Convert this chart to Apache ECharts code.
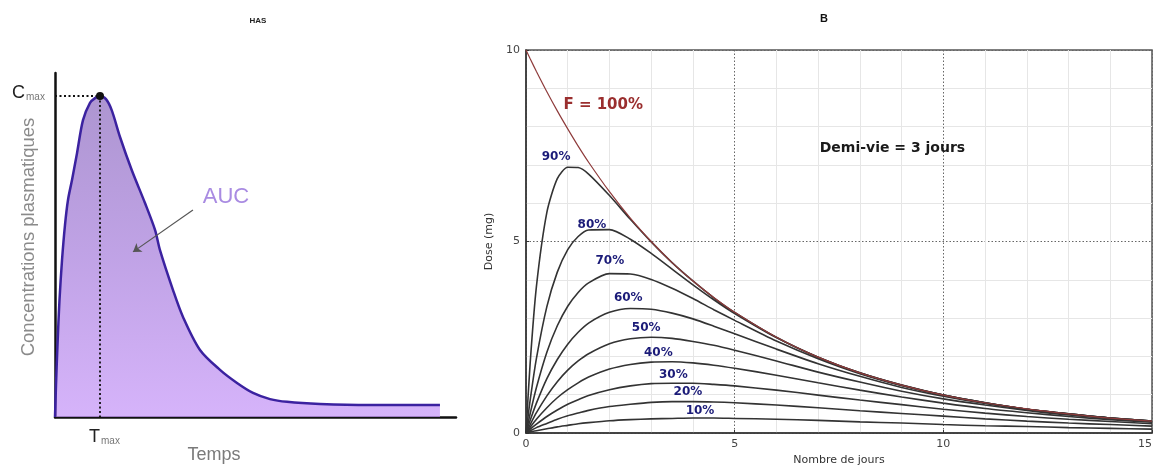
<!DOCTYPE html>
<html><head><meta charset="utf-8">
<script src="https://cdn.jsdelivr.net/npm/echarts/dist/echarts.min.js"></script>
<style>html,body{margin:0;padding:0;background:#fff}#c{width:1157px;height:465px}</style>
</head><body><div id="c"></div>
<script>
// ---- Left panel (HAS): plasma concentration curve (arbitrary units) ----
const timeL = [0, 0.25, 0.62, 1.12, 1.75, 2.49, 3.24, 4.24, 5.49, 6.98, 8.73, 9.98, 11.22,
  12.72, 14.14, 16.21, 19.13, 22.44, 24.94, 26.18, 29.43, 31.92, 36.16, 41.15, 45.39, 49.38, 53.62, 57.86, 66.08, 78.55, 96.0];
const concL = [0, 9.3, 20.9, 34.0, 45.6, 55.8, 63.1, 68.9, 76.7, 86.3, 91.3, 92.7, 93.3,
  92.4, 89.2, 81.4, 71.8, 62.2, 54.4, 48.5, 36.9, 29.1, 19.5, 13.7, 9.9, 7.0, 5.2, 4.4, 3.8, 3.5, 3.5];
const peakIndex = 12;
const aucArrowFrom = [34.4, 60.2];
const aucArrowTo = [19.45, 48.0];

// ---- Right panel (B): dose vs days ----
const days = [0, 0.1, 0.25, 0.5, 0.75, 1, 1.25, 1.5, 2, 2.5, 3, 3.5, 4, 4.5, 5, 6, 7, 8, 9, 10, 11, 12, 13, 14, 15];
const f100 = [10, 9.77, 9.44, 8.91, 8.41, 7.94, 7.49, 7.07, 6.30, 5.61, 5.00, 4.45, 3.97, 3.54, 3.15, 2.50, 1.98, 1.57, 1.25, 0.99, 0.79, 0.63, 0.50, 0.39, 0.31];
const p90 = [0, 1.83, 3.83, 5.76, 6.64, 6.94, 6.93, 6.76, 6.20, 5.58, 4.99, 4.45, 3.97, 3.53, 3.15, 2.50, 1.98, 1.57, 1.25, 0.99, 0.79, 0.62, 0.50, 0.39, 0.31];
const p80 = [0, 0.86, 1.95, 3.30, 4.20, 4.79, 5.13, 5.30, 5.31, 5.06, 4.69, 4.28, 3.87, 3.48, 3.12, 2.49, 1.98, 1.57, 1.25, 0.99, 0.79, 0.62, 0.50, 0.39, 0.31];
const p70 = [0, 0.51, 1.19, 2.11, 2.80, 3.31, 3.67, 3.92, 4.16, 4.15, 4.01, 3.78, 3.51, 3.22, 2.94, 2.40, 1.94, 1.55, 1.24, 0.99, 0.79, 0.62, 0.50, 0.39, 0.31];
const p60 = [0, 0.33, 0.78, 1.42, 1.92, 2.32, 2.63, 2.87, 3.15, 3.25, 3.23, 3.13, 2.98, 2.79, 2.59, 2.19, 1.81, 1.48, 1.19, 0.96, 0.77, 0.62, 0.49, 0.39, 0.31];
const p50 = [0, 0.22, 0.53, 0.97, 1.34, 1.64, 1.88, 2.07, 2.33, 2.46, 2.50, 2.47, 2.39, 2.29, 2.16, 1.88, 1.59, 1.33, 1.09, 0.89, 0.73, 0.59, 0.47, 0.38, 0.30];
const p40 = [0, 0.15, 0.36, 0.66, 0.92, 1.13, 1.31, 1.46, 1.67, 1.79, 1.85, 1.86, 1.83, 1.77, 1.69, 1.51, 1.31, 1.12, 0.94, 0.78, 0.64, 0.53, 0.43, 0.35, 0.28];
const p30 = [0, 0.10, 0.23, 0.43, 0.60, 0.75, 0.87, 0.98, 1.13, 1.23, 1.29, 1.30, 1.30, 1.27, 1.23, 1.12, 0.99, 0.86, 0.74, 0.62, 0.52, 0.43, 0.36, 0.30, 0.24];
const p20 = [0, 0.06, 0.14, 0.25, 0.36, 0.45, 0.52, 0.59, 0.69, 0.75, 0.80, 0.82, 0.82, 0.81, 0.79, 0.73, 0.66, 0.58, 0.51, 0.44, 0.37, 0.31, 0.26, 0.22, 0.18];
const p10 = [0, 0.03, 0.06, 0.11, 0.16, 0.20, 0.24, 0.27, 0.32, 0.35, 0.37, 0.38, 0.39, 0.39, 0.38, 0.36, 0.33, 0.29, 0.26, 0.22, 0.19, 0.17, 0.14, 0.12, 0.10];
const curveNames = ['F = 100%', '90%', '80%', '70%', '60%', '50%', '40%', '30%', '20%', '10%'];
const curves = [f100, p90, p80, p70, p60, p50, p40, p30, p20, p10];
const labelX = [1.85, 0.72, 1.58, 2.01, 2.45, 2.88, 3.17, 3.53, 3.88, 4.17];
const labelY = [8.56, 7.2, 5.43, 4.49, 3.52, 2.74, 2.09, 1.51, 1.07, 0.57];
const halfLifeText = 'Demi-vie = 3 jours';
const halfLifePos = [8.78, 7.44];
const xTicksB = [0, 5, 10, 15];
const yTicksB = [0, 5, 10];

const chart = echarts.init(document.getElementById('c'), null, {renderer: 'canvas'});
const FONT = 'Liberation Sans, Arial, sans-serif';
const DV = 'DejaVu Sans, sans-serif';

const rightSeries = curves.map((vals, k) => ({
  type: 'line', xAxisIndex: 1, yAxisIndex: 1, name: curveNames[k],
  data: days.map((d, i) => [d, vals[i]]),
  smooth: 0.25, showSymbol: false, silent: true,
  lineStyle: {color: k === 0 ? '#8e3b3b' : '#333333', width: k === 0 ? 1.2 : 1.6},
  z: k === 0 ? 3 : 2
}));

const labelData = curveNames.map((n, k) => ({
  value: [labelX[k], labelY[k]],
  label: {
    formatter: n,
    color: k === 0 ? '#9a2e2e' : '#1b1b78',
    fontSize: k === 0 ? 15 : 12,
    fontWeight: 'bold', fontFamily: DV
  }
}));
labelData.push({
  value: halfLifePos,
  label: {formatter: halfLifeText, color: '#1a1a1a', fontSize: 14, fontWeight: 'bold', fontFamily: DV}
});

const option = {
  animation: false,
  backgroundColor: '#fff',
  title: [
    {text: 'HAS', left: 253, top: 12, textAlign: 'center',
      textStyle: {fontSize: 8, fontWeight: 'bold', color: '#222', fontFamily: FONT}},
    {text: 'B', left: 819, top: 8, textAlign: 'center',
      textStyle: {fontSize: 11, fontWeight: 'bold', color: '#111', fontFamily: FONT}}
  ],
  grid: [
    {left: 55, top: 73, width: 401, height: 344, show: false, containLabel: false, outerBoundsMode: 'none'},
    {left: 526, top: 50, width: 626, height: 383, show: true, borderColor: '#555', borderWidth: 1.5,
      backgroundColor: 'transparent', containLabel: false, outerBoundsMode: 'none'}
  ],
  xAxis: [
    {type: 'value', gridIndex: 0, min: 0, max: 100,
      axisLine: {show: true, onZero: false, lineStyle: {color: '#111', width: 2.5}},
      axisTick: {show: false}, axisLabel: {show: false}, splitLine: {show: false}},
    {type: 'value', gridIndex: 1, min: 0, max: 15, interval: 5,
      axisLine: {show: true, onZero: false, lineStyle: {color: '#333', width: 1.5}},
      axisTick: {show: true, length: 3, inside: true, lineStyle: {color: '#333'}},
      axisLabel: {color: '#444', fontSize: 11, margin: 6, fontFamily: DV, alignMaxLabel: 'right',
        formatter: v => xTicksB.includes(v) ? String(v) : ''},
      splitLine: {show: true, lineStyle: {color: '#666', type: [1.5, 2], width: 1}},
      minorTick: {show: false, splitNumber: 5},
      minorSplitLine: {show: true, lineStyle: {color: '#e6e6e6', width: 1}},
      name: 'Nombre de jours', nameLocation: 'middle', nameGap: 21,
      nameTextStyle: {fontSize: 11, color: '#333', fontFamily: DV}}
  ],
  yAxis: [
    {type: 'value', gridIndex: 0, min: 0, max: 100,
      axisLine: {show: true, onZero: false, lineStyle: {color: '#111', width: 2.5}},
      axisTick: {show: false}, axisLabel: {show: false}, splitLine: {show: false}},
    {type: 'value', gridIndex: 1, min: 0, max: 10, interval: 5,
      axisLine: {show: true, onZero: false, lineStyle: {color: '#333', width: 1.5}},
      axisTick: {show: true, length: 3, inside: true, lineStyle: {color: '#333'}},
      axisLabel: {color: '#444', fontSize: 11, margin: 6, fontFamily: DV,
        formatter: v => yTicksB.includes(v) ? String(v) : ''},
      splitLine: {show: true, lineStyle: {color: '#666', type: [1.5, 2], width: 1}},
      minorTick: {show: false, splitNumber: 5},
      minorSplitLine: {show: true, lineStyle: {color: '#e6e6e6', width: 1}},
      name: 'Dose (mg)', nameLocation: 'middle', nameGap: 22, nameRotate: 90,
      nameTextStyle: {fontSize: 11, color: '#333', fontFamily: DV}}
  ],
  graphic: [
    {type: 'text', left: 12, top: 84, silent: true,
      style: {text: '{a|C}{b|max}', rich: {
        a: {fontSize: 18, fontFamily: FONT, fill: '#222', verticalAlign: 'bottom'},
        b: {fontSize: 10, fontFamily: FONT, fill: '#777', padding: [8, 0, 0, 1]}}}},
    {type: 'text', left: 89, top: 428, silent: true,
      style: {text: '{a|T}{b|max}', rich: {
        a: {fontSize: 18, fontFamily: FONT, fill: '#222'},
        b: {fontSize: 10, fontFamily: FONT, fill: '#777', padding: [8, 0, 0, 1]}}}},
    {type: 'text', x: 214, y: 455, silent: true,
      style: {text: 'Temps', fontSize: 18, fontFamily: FONT, fill: '#7a7a7a', textAlign: 'center', textVerticalAlign: 'middle'}},
    {type: 'text', x: 29, y: 237, rotation: Math.PI / 2, silent: true,
      style: {text: 'Concentrations plasmatiques', fontSize: 18.5, fontFamily: FONT, fill: '#8a8a8a', textAlign: 'center', textVerticalAlign: 'middle'}},
    {type: 'text', x: 226, y: 197, silent: true,
      style: {text: 'AUC', fontSize: 22, fontFamily: FONT, fill: '#a98be2', textAlign: 'center', textVerticalAlign: 'middle'}}
  ],
  series: [
    {type: 'line', xAxisIndex: 0, yAxisIndex: 0, silent: true,
      data: timeL.map((t, i) => [t, concL[i]]),
      smooth: 0.3, showSymbol: false,
      lineStyle: {color: '#3b22a0', width: 2.5},
      areaStyle: {origin: 'start', color: new echarts.graphic.LinearGradient(0, 0, 0, 1, [
        {offset: 0, color: '#8a68bd'}, {offset: 0.5, color: '#a57bdb'}, {offset: 1, color: '#c493f8'}])},
      markLine: {silent: true, symbol: 'none', label: {show: false},
        lineStyle: {color: '#111', type: [2, 2.5], width: 1.8},
        data: [
          [{coord: [0, concL[peakIndex]]}, {coord: [timeL[peakIndex], concL[peakIndex]]}],
          [{coord: [timeL[peakIndex], concL[peakIndex]]}, {coord: [timeL[peakIndex], 0]}],
          [{coord: aucArrowFrom, symbol: 'none', lineStyle: {color: '#555', type: 'solid', width: 1.2}},
           {coord: aucArrowTo, symbol: 'arrow', symbolSize: 8, lineStyle: {color: '#555', type: 'solid', width: 1.2}}]
        ]},
      markPoint: {silent: true, symbol: 'circle', symbolSize: 8, itemStyle: {color: '#111'}, label: {show: false},
        data: [{coord: [timeL[peakIndex], concL[peakIndex]]}]},
      z: 3
    },
    ...rightSeries,
    {type: 'scatter', xAxisIndex: 1, yAxisIndex: 1, silent: true, symbolSize: 2,
      itemStyle: {color: 'rgba(0,0,0,0)', opacity: 1},
      label: {show: true, position: 'inside'},
      labelLayout: {hideOverlap: false},
      data: labelData, z: 10}
  ]
};
chart.setOption(option);
</script>
</body></html>
